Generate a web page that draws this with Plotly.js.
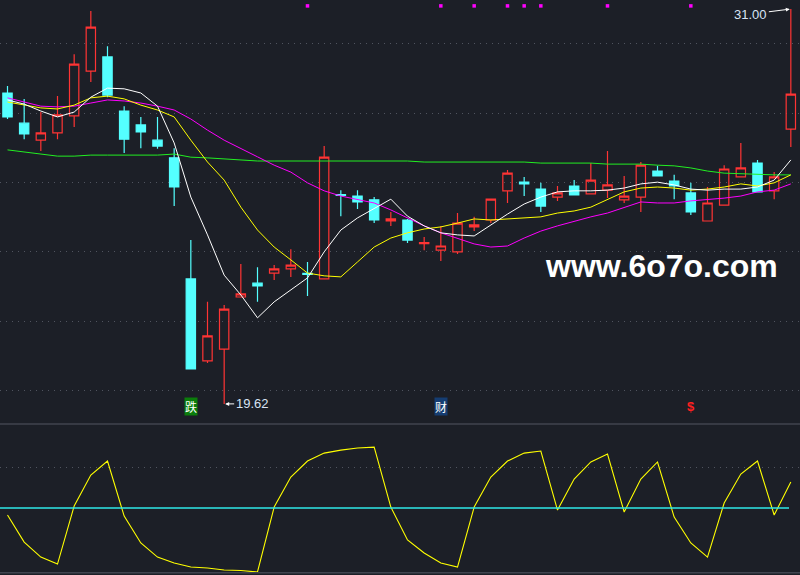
<!DOCTYPE html>
<html><head><meta charset="utf-8">
<script src="https://cdn.plot.ly/plotly-3.0.1.min.js"></script>
<style>html,body{margin:0;padding:0;background:#1c1f27;}#chart{width:800px;height:575px;}</style>
</head><body><div id="chart"></div>
<script>
const day = [1,2,3,4,5,6,7,8,9,10,11,12,13,14,15,16,17,18,19,20,21,22,23,24,25,26,27,28,29,30,31,32,33,34,35,36,37,38,39,40,41,42,43,44,45,46,47,48];
const openP = [28.58,27.71,27.22,27.43,27.92,29.21,29.62,28.06,27.66,27.22,26.71,23.22,20.86,21.20,22.70,23.10,23.39,23.51,23.38,23.22,25.65,25.61,25.50,24.89,24.92,24.24,24.05,24.00,24.72,24.92,25.76,26.01,25.81,25.58,25.90,25.67,25.78,25.50,25.58,26.33,26.04,25.70,24.89,25.35,26.16,26.56,25.76,27.54];
const highP = [28.78,28.41,28.03,28.49,29.70,30.94,29.93,28.20,27.89,27.89,26.99,24.34,22.56,22.47,23.65,23.56,23.62,24.08,23.71,27.05,25.78,25.78,25.58,25.15,24.95,24.43,24.75,25.12,25.01,25.52,26.36,26.16,25.99,25.90,26.07,26.56,26.91,26.19,26.59,26.48,26.22,25.99,25.87,26.50,27.14,26.65,26.30,31.00];
const lowP = [27.83,27.25,26.91,27.25,27.60,28.90,28.46,26.85,26.99,26.97,25.32,20.63,20.80,19.62,22.70,22.56,23.19,23.28,22.73,23.22,25.03,25.24,24.83,24.75,24.26,24.05,23.74,23.94,24.60,24.83,25.41,25.61,25.15,25.47,25.64,25.67,25.55,25.41,25.15,26.19,25.52,25.06,24.89,25.35,26.16,25.73,25.52,27.02];
const closeP = [27.89,27.40,27.43,27.95,29.41,30.48,28.52,27.25,27.46,27.05,25.87,20.63,21.58,22.35,22.79,23.02,23.51,23.62,23.35,26.73,25.63,25.44,24.92,24.95,24.34,24.27,24.17,24.83,24.78,25.52,26.27,25.96,25.32,25.70,25.64,26.07,25.93,25.61,26.50,26.19,25.90,25.15,25.41,26.39,26.42,25.73,26.16,28.55];
const ma5 = [28.38,28.26,28.06,27.89,28.03,28.46,28.72,28.70,28.58,28.20,27.14,25.58,24.49,23.33,22.76,22.10,22.56,22.90,23.25,24.00,24.63,24.98,25.24,25.52,25.03,24.75,24.55,24.49,24.46,24.78,25.09,25.38,25.58,25.73,25.76,25.76,25.78,25.84,25.96,26.01,25.93,25.81,25.78,25.81,25.81,25.87,26.07,26.65];
const ma10 = [28.32,28.23,28.15,28.12,28.23,28.44,28.49,28.41,28.23,28.09,27.89,27.22,26.59,26.07,25.29,24.63,24.14,23.77,23.39,23.31,23.28,23.71,24.14,24.40,24.55,24.66,24.72,24.83,24.95,24.92,24.95,24.98,25.01,25.12,25.18,25.29,25.50,25.73,25.84,25.87,25.84,25.78,25.81,25.87,25.96,25.90,25.99,26.22];
const ma20 = [28.44,28.32,28.20,28.18,28.20,28.29,28.38,28.35,28.29,28.20,28.09,27.83,27.51,27.22,26.99,26.74,26.50,26.30,25.99,25.76,25.61,25.52,25.41,25.21,24.98,24.75,24.55,24.40,24.23,24.14,24.17,24.40,24.60,24.75,24.89,25.01,25.12,25.27,25.44,25.41,25.41,25.47,25.50,25.55,25.61,25.73,25.78,25.96];
const ma60 = [26.94,26.88,26.82,26.76,26.76,26.79,26.79,26.79,26.79,26.79,26.82,26.73,26.71,26.68,26.65,26.62,26.62,26.62,26.62,26.62,26.62,26.62,26.62,26.62,26.62,26.59,26.59,26.59,26.59,26.59,26.59,26.59,26.56,26.56,26.56,26.56,26.53,26.53,26.53,26.50,26.48,26.42,26.33,26.27,26.25,26.22,26.22,26.22];
const osc = [44.9,25.1,14.1,9.0,51.5,74.1,84.4,44.1,24.4,14.1,9.8,6.8,6.1,4.6,4.3,3.2,50.7,72.7,84.4,90.2,92.4,93.9,94.6,50.7,26.6,17.1,9.8,6.8,50.7,72.7,84.4,90.2,91.7,48.5,71.2,83.7,89.5,47.1,71.2,83.7,43.4,24.4,14.1,53.7,74.9,84.4,44.9,69.0];
const oscMid = 50;
const signalDays = [19,27,29,31,32,33,37,42];
const signalLevel = [31.09,31.09,31.09,31.09,31.09,31.09,31.09,31.09];
const maxHigh = 31.00, minLow = 19.62, maxDay = 48, minDay = 14;

const BG = '#1c1f27', RED = '#ff3434', CYAN = '#54ffff';
const traces = [
  {type:'candlestick', x:day, open:openP, high:highP, low:lowP, close:closeP, xaxis:'x', yaxis:'y',
   increasing:{line:{color:RED,width:1.2}, fillcolor:'rgba(0,0,0,0)'},
   decreasing:{line:{color:CYAN,width:1.2}, fillcolor:CYAN}, whiskerwidth:0, hoverinfo:'skip', showlegend:false},
  {type:'scatter', mode:'lines', x:day, y:ma60, line:{color:'#22ee22',width:1}, xaxis:'x', yaxis:'y', hoverinfo:'skip'},
  {type:'scatter', mode:'lines', x:day, y:ma20, line:{color:'#ff00ff',width:1}, xaxis:'x', yaxis:'y', hoverinfo:'skip'},
  {type:'scatter', mode:'lines', x:day, y:ma10, line:{color:'#ffff00',width:1}, xaxis:'x', yaxis:'y', hoverinfo:'skip'},
  {type:'scatter', mode:'lines', x:day, y:ma5, line:{color:'#ffffff',width:1}, xaxis:'x', yaxis:'y', hoverinfo:'skip'},
  {type:'scatter', mode:'markers', x:signalDays, y:signalLevel, marker:{symbol:'square',size:3.5,color:'#ff00ff'}, xaxis:'x', yaxis:'y', hoverinfo:'skip'},
  {type:'scatter', mode:'lines', x:day, y:osc, line:{color:'#ffff00',width:1.1}, xaxis:'x2', yaxis:'y2', hoverinfo:'skip'}
];
const split = 151/575;
const layout = {
  width:800, height:575, margin:{l:0,r:0,t:0,b:0},
  paper_bgcolor:BG, plot_bgcolor:BG, showlegend:false, boxgap:0.2,
  xaxis:{range:[0.55,48.55], showgrid:false, zeroline:false, showticklabels:false, ticks:'', rangeslider:{visible:false}, anchor:'y', fixedrange:true},
  yaxis:{domain:[split,1], range:[19.04,31.26], tickvals:[20,22,24,26,28,30], showticklabels:false, ticks:'', showgrid:true, gridcolor:'#50545f', griddash:'1px,5px', gridwidth:1, zeroline:false, fixedrange:true},
  xaxis2:{range:[0.55,48.55], matches:'x', showgrid:false, zeroline:false, showticklabels:false, ticks:'', anchor:'y2'},
  yaxis2:{domain:[0,split], range:[0.98,111.5], tickvals:[80], showticklabels:false, ticks:'', showgrid:true, gridcolor:'#50545f', griddash:'1px,5px', gridwidth:1, zeroline:false, fixedrange:true},
  shapes:[
    {type:'line', xref:'paper', yref:'paper', x0:0, x1:1, y0:split, y1:split, line:{color:'#40444f',width:1.5}},
    {type:'line', xref:'paper', yref:'paper', x0:0, x1:1, y0:0.004, y1:0.004, line:{color:'#40444f',width:1.5}},
    {type:'line', xref:'paper', yref:'y2', x0:0, x1:789/800, y0:oscMid, y1:oscMid, line:{color:'#2ee8e8',width:1.5}}
  ],
  annotations:[
    {x:maxDay, y:maxHigh, xref:'x', yref:'y', text:'31.00', showarrow:true, ax:-40, ay:5, arrowhead:2, arrowsize:0.8, arrowwidth:1, arrowcolor:'#ffffff', standoff:1,
     font:{family:'Liberation Sans, Arial, sans-serif', size:13, color:'#d8e4f4'}},
    {x:minDay, y:minLow, xref:'x', yref:'y', text:'19.62', showarrow:true, ax:28, ay:0, arrowhead:2, arrowsize:0.8, arrowwidth:1, arrowcolor:'#ffffff', standoff:1,
     font:{family:'Liberation Sans, Arial, sans-serif', size:13, color:'#d8e4f4'}},
    {x:12, y:1-416.5/575, xref:'x', yref:'paper', text:'跌', showarrow:false, bgcolor:'#0b7d0b', borderpad:0,
     font:{family:'Noto Sans CJK SC', size:12, color:'#ffffff'}},
    {x:27, y:1-416.5/575, xref:'x', yref:'paper', text:'财', showarrow:false, bgcolor:'#153d72', borderpad:0,
     font:{family:'Noto Sans CJK SC', size:12, color:'#ffffff'}},
    {x:42, y:1-416.5/575, xref:'x', yref:'paper', text:'<b>$</b>', showarrow:false,
     font:{family:'Liberation Sans, Arial, sans-serif', size:13, color:'#ff2020'}},
    {x:661/800, y:1-266/575, xref:'paper', yref:'paper', xanchor:'center', yanchor:'middle', text:'www.6o7o.com', showarrow:false,
     font:{family:'Liberation Sans, Arial, sans-serif', size:32, color:'#ffffff', weight:'bold'}}
  ]
};
Plotly.newPlot('chart', traces, layout, {displayModeBar:false, staticPlot:true});
</script>
</body></html>
